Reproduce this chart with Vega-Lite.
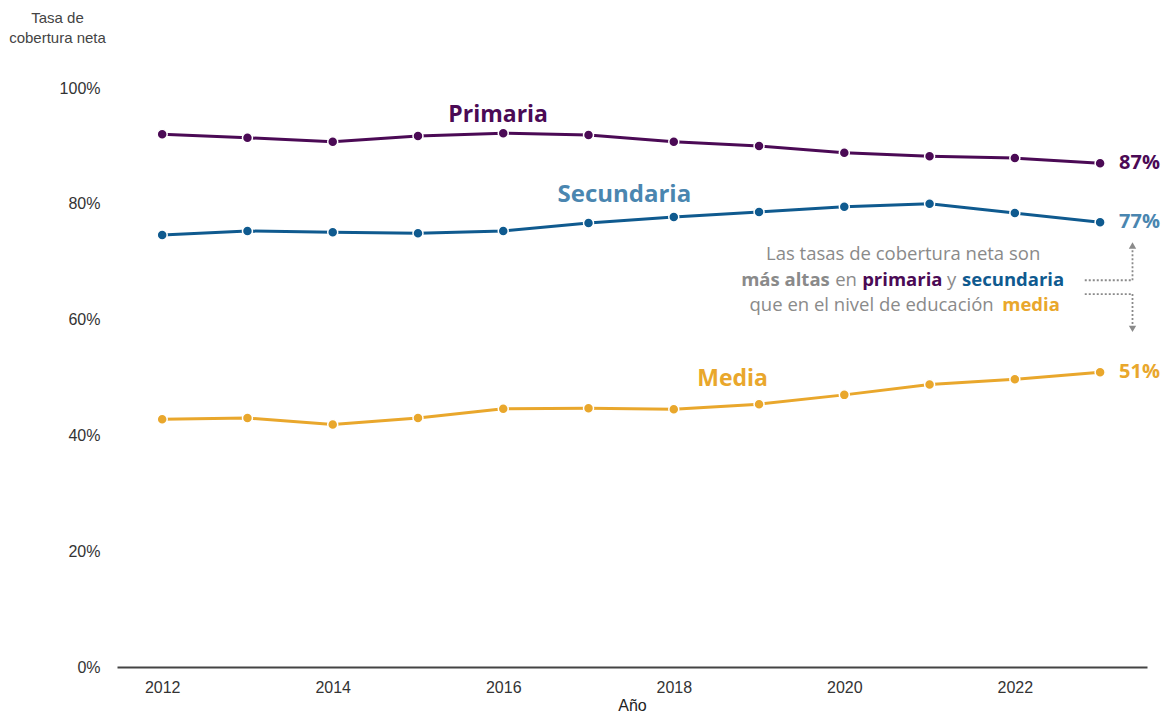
{
  "$schema": "https://vega.github.io/schema/vega-lite/v6.json",
  "autosize": "none",
  "width": 1030,
  "height": 579,
  "padding": {"left": 117, "top": 88, "right": 20, "bottom": 50},
  "background": "white",
  "config": {"view": {"stroke": null}, "font": "Liberation Sans"},
  "datasets": {
    "one": [{}],
    "tasas": [
    {"year": 2012, "nivel": "Primaria", "value": 0.920},
    {"year": 2013, "nivel": "Primaria", "value": 0.914},
    {"year": 2014, "nivel": "Primaria", "value": 0.907},
    {"year": 2015, "nivel": "Primaria", "value": 0.917},
    {"year": 2016, "nivel": "Primaria", "value": 0.922},
    {"year": 2017, "nivel": "Primaria", "value": 0.919},
    {"year": 2018, "nivel": "Primaria", "value": 0.907},
    {"year": 2019, "nivel": "Primaria", "value": 0.900},
    {"year": 2020, "nivel": "Primaria", "value": 0.888},
    {"year": 2021, "nivel": "Primaria", "value": 0.882},
    {"year": 2022, "nivel": "Primaria", "value": 0.879},
    {"year": 2023, "nivel": "Primaria", "value": 0.870},
    {"year": 2012, "nivel": "Secundaria", "value": 0.746},
    {"year": 2013, "nivel": "Secundaria", "value": 0.753},
    {"year": 2014, "nivel": "Secundaria", "value": 0.751},
    {"year": 2015, "nivel": "Secundaria", "value": 0.749},
    {"year": 2016, "nivel": "Secundaria", "value": 0.753},
    {"year": 2017, "nivel": "Secundaria", "value": 0.767},
    {"year": 2018, "nivel": "Secundaria", "value": 0.777},
    {"year": 2019, "nivel": "Secundaria", "value": 0.786},
    {"year": 2020, "nivel": "Secundaria", "value": 0.795},
    {"year": 2021, "nivel": "Secundaria", "value": 0.800},
    {"year": 2022, "nivel": "Secundaria", "value": 0.784},
    {"year": 2023, "nivel": "Secundaria", "value": 0.768},
    {"year": 2012, "nivel": "Media", "value": 0.428},
    {"year": 2013, "nivel": "Media", "value": 0.430},
    {"year": 2014, "nivel": "Media", "value": 0.419},
    {"year": 2015, "nivel": "Media", "value": 0.430},
    {"year": 2016, "nivel": "Media", "value": 0.446},
    {"year": 2017, "nivel": "Media", "value": 0.447},
    {"year": 2018, "nivel": "Media", "value": 0.445},
    {"year": 2019, "nivel": "Media", "value": 0.454},
    {"year": 2020, "nivel": "Media", "value": 0.470},
    {"year": 2021, "nivel": "Media", "value": 0.488},
    {"year": 2022, "nivel": "Media", "value": 0.497},
    {"year": 2023, "nivel": "Media", "value": 0.509}
  ]},
  "resolve": {"scale": {"color": "independent"}},
  "layer": [
    {
      "data": {"name": "tasas"},
      "mark": {"type": "line", "strokeWidth": 3},
      "encoding": {
        "x": {"field": "year", "type": "quantitative",
          "scale": {"domain": [2011.47, 2023.55], "nice": false, "zero": false},
          "axis": {"values": [2012, 2014, 2016, 2018, 2020, 2022], "format": "d", "ticks": false, "grid": false,
            "domainColor": "#444", "domainWidth": 2, "labelFontSize": 16, "labelColor": "#333", "labelPadding": 12,
            "title": "Año", "titleFontSize": 16, "titleFontWeight": "normal", "titleColor": "#222", "titlePadding": 2}},
        "y": {"field": "value", "type": "quantitative",
          "scale": {"domain": [0, 1], "nice": false},
          "axis": {"values": [0, 0.2, 0.4, 0.6, 0.8, 1], "format": ".0%", "domain": false, "ticks": false, "grid": false,
            "labelFontSize": 16, "labelColor": "#333", "labelPadding": 17,
            "title": ["Tasa de", "cobertura neta"], "titleAngle": 0, "titleAlign": "center", "titleBaseline": "top",
            "titleX": -60, "titleY": -78, "titleFontSize": 15, "titleFontWeight": "normal", "titleColor": "#444", "titleLineHeight": 20}},
        "color": {"field": "nivel", "type": "nominal",
          "scale": {"domain": ["Primaria", "Secundaria", "Media"], "range": ["#4b0a55", "#0f5a8f", "#e9a72c"]}, "legend": null}
      }
    },
    {
      "data": {"name": "tasas"},
      "mark": {"type": "point", "filled": true, "size": 100, "stroke": "white", "strokeWidth": 1.5, "opacity": 1},
      "encoding": {
        "x": {"field": "year", "type": "quantitative"},
        "y": {"field": "value", "type": "quantitative"},
        "fill": {"field": "nivel", "type": "nominal",
          "scale": {"domain": ["Primaria", "Secundaria", "Media"], "range": ["#4b0a55", "#0f5a8f", "#e9a72c"]}, "legend": null}
      }
    },
    {
      "data": {"name": "tasas"},
      "transform": [{"filter": "datum.year == 2023"}],
      "mark": {"type": "text", "align": "left", "baseline": "middle", "dx": 19, "fontSize": 20, "fontWeight": "bold", "font": "Open Sans"},
      "encoding": {
        "x": {"field": "year", "type": "quantitative"},
        "y": {"field": "value", "type": "quantitative"},
        "text": {"field": "value", "type": "quantitative", "format": ".0%"},
        "color": {"field": "nivel", "type": "nominal",
          "scale": {"domain": ["Primaria", "Secundaria", "Media"], "range": ["#4b0a55", "#4a86b0", "#e9a72c"]}, "legend": null}
      }
    },
    {
      "data": {"name": "one"},
      "mark": {"type": "text", "text": "Primaria", "align": "center", "baseline": "middle", "fontSize": 23, "fontWeight": "bold", "font": "Open Sans", "color": "#4b0a55"},
      "encoding": {"x": {"datum": 2015.94}, "y": {"datum": 0.953}}
    },
    {
      "data": {"name": "one"},
      "mark": {"type": "text", "text": "Secundaria", "align": "center", "baseline": "middle", "fontSize": 24, "fontWeight": "bold", "font": "Open Sans", "color": "#4a86b0"},
      "encoding": {"x": {"datum": 2017.42}, "y": {"datum": 0.815}}
    },
    {
      "data": {"name": "one"},
      "mark": {"type": "text", "text": "Media", "align": "center", "baseline": "middle", "fontSize": 23, "fontWeight": "bold", "font": "Open Sans", "color": "#e9a72c"},
      "encoding": {"x": {"datum": 2018.69}, "y": {"datum": 0.497}}
    },
    {
      "data": {"name": "one"},
      "mark": {"type": "text", "text": "Las tasas de cobertura neta son", "align": "center", "baseline": "middle", "fontSize": 18.5, "font": "Open Sans", "color": "#8a8a8a"},
      "encoding": {"x": {"datum": 2020.69}, "y": {"datum": 0.713}}
    },
    {
      "data": {"name": "one"},
      "mark": {"type": "text", "text": "más altas", "align": "center", "baseline": "middle", "fontSize": 18.5, "fontWeight": "bold", "font": "Open Sans", "color": "#8a8a8a"},
      "encoding": {"x": {"datum": 2019.31}, "y": {"datum": 0.668}}
    },
    {
      "data": {"name": "one"},
      "mark": {"type": "text", "text": "en", "align": "center", "baseline": "middle", "fontSize": 18.5, "font": "Open Sans", "color": "#8a8a8a"},
      "encoding": {"x": {"datum": 2020.02}, "y": {"datum": 0.668}}
    },
    {
      "data": {"name": "one"},
      "mark": {"type": "text", "text": "primaria", "align": "center", "baseline": "middle", "fontSize": 18.5, "fontWeight": "bold", "font": "Open Sans", "color": "#4b0a55"},
      "encoding": {"x": {"datum": 2020.68}, "y": {"datum": 0.668}}
    },
    {
      "data": {"name": "one"},
      "mark": {"type": "text", "text": "y", "align": "center", "baseline": "middle", "fontSize": 18.5, "font": "Open Sans", "color": "#8a8a8a"},
      "encoding": {"x": {"datum": 2021.26}, "y": {"datum": 0.668}}
    },
    {
      "data": {"name": "one"},
      "mark": {"type": "text", "text": "secundaria", "align": "center", "baseline": "middle", "fontSize": 18.5, "fontWeight": "bold", "font": "Open Sans", "color": "#0f5a8f"},
      "encoding": {"x": {"datum": 2021.98}, "y": {"datum": 0.668}}
    },
    {
      "data": {"name": "one"},
      "mark": {"type": "text", "text": "que en el nivel de educación", "align": "center", "baseline": "middle", "fontSize": 18.5, "font": "Open Sans", "color": "#8a8a8a"},
      "encoding": {"x": {"datum": 2020.32}, "y": {"datum": 0.626}}
    },
    {
      "data": {"name": "one"},
      "mark": {"type": "text", "text": "media", "align": "center", "baseline": "middle", "fontSize": 18.5, "fontWeight": "bold", "font": "Open Sans", "color": "#e9a72c"},
      "encoding": {"x": {"datum": 2022.19}, "y": {"datum": 0.626}}
    },
    {
      "data": {"name": "one"},
      "mark": {"type": "rule", "color": "#8a8a8a", "strokeWidth": 1.8, "strokeDash": [2, 2]},
      "encoding": {"x": {"datum": 2022.82}, "x2": {"datum": 2023.38}, "y": {"datum": 0.668}, "y2": {"datum": 0.668}}
    },
    {
      "data": {"name": "one"},
      "mark": {"type": "rule", "color": "#8a8a8a", "strokeWidth": 1.8, "strokeDash": [2, 2]},
      "encoding": {"x": {"datum": 2023.38}, "y": {"datum": 0.668}, "y2": {"datum": 0.722}}
    },
    {
      "data": {"name": "one"},
      "mark": {"type": "rule", "color": "#8a8a8a", "strokeWidth": 1.8, "strokeDash": [2, 2]},
      "encoding": {"x": {"datum": 2022.82}, "x2": {"datum": 2023.38}, "y": {"datum": 0.644}, "y2": {"datum": 0.644}}
    },
    {
      "data": {"name": "one"},
      "mark": {"type": "rule", "color": "#8a8a8a", "strokeWidth": 1.8, "strokeDash": [2, 2]},
      "encoding": {"x": {"datum": 2023.38}, "y": {"datum": 0.644}, "y2": {"datum": 0.590}}
    },
    {
      "data": {"name": "one"},
      "mark": {"type": "point", "shape": "triangle-up", "filled": true, "size": 55, "color": "#8a8a8a", "opacity": 1},
      "encoding": {"x": {"datum": 2023.38}, "y": {"datum": 0.728}}
    },
    {
      "data": {"name": "one"},
      "mark": {"type": "point", "shape": "triangle-down", "filled": true, "size": 55, "color": "#8a8a8a", "opacity": 1},
      "encoding": {"x": {"datum": 2023.38}, "y": {"datum": 0.584}}
    }
  ]
}
